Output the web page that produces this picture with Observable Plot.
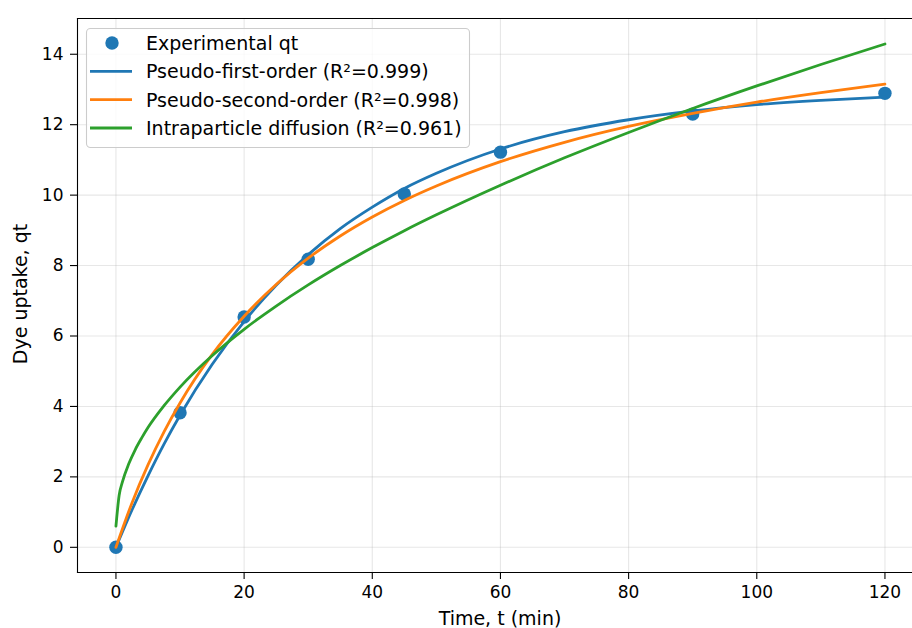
<!DOCTYPE html>
<html><head><meta charset="utf-8">
<script src="https://cdn.jsdelivr.net/npm/d3@7"></script>
<script src="https://cdn.jsdelivr.net/npm/@observablehq/plot@0.6"></script>
<style>
body{margin:0;background:#fff;overflow:hidden}
#chart{position:relative;width:912px;height:628px}
</style>
</head><body><div id="chart"></div>
<script>
// Experimental data
const expTime = [0, 10, 20, 30, 45, 60, 90, 120];
const expQt = [0, 3.82, 6.54, 8.18, 10.03, 11.22, 12.30, 12.89];

// Fitted curves
const fitTime = [0, 2.5, 5, 7.5, 10, 15, 20, 25, 30, 35, 40, 45, 50, 60, 70, 80, 90, 100, 110, 120];
const pfoQt = [0, 1.06, 2.03, 2.93, 3.75, 5.19, 6.41, 7.44, 8.31, 9.05, 9.66, 10.19, 10.62, 11.31, 11.80, 12.14, 12.39, 12.57, 12.69, 12.78];
const psoQt = [0, 1.26, 2.34, 3.28, 4.10, 5.47, 6.56, 7.46, 8.21, 8.84, 9.38, 9.85, 10.26, 10.95, 11.50, 11.95, 12.32, 12.64, 12.91, 13.15];
const ipdTime = [0, 0.5, 1, 2, 3, 4, 5, 7.5, 10, 15, 20, 25, 30, 35, 40, 45, 50, 60, 70, 80, 90, 100, 110, 120];
const ipdQt = [0.60, 1.48, 1.85, 2.37, 2.77, 3.10, 3.40, 4.02, 4.55, 5.44, 6.19, 6.85, 7.45, 8.00, 8.51, 8.99, 9.44, 10.28, 11.06, 11.78, 12.46, 13.10, 13.71, 14.29];

const xTicks = [0, 20, 40, 60, 80, 100, 120];
const yTicks = [0, 2, 4, 6, 8, 10, 12, 14];
const legendLabels = ["Experimental qt", "Pseudo-first-order (R²=0.999)", "Pseudo-second-order (R²=0.998)", "Intraparticle diffusion (R²=0.961)"];
const colors = ["#1f77b4", "#ff7f0e", "#2ca02c"];
const xLabel = "Time, t (min)";
const yLabel = "Dye uptake, qt";

const expData = expTime.map((t, i) => ({t, q: expQt[i]}));
const pfoData = fitTime.map((t, i) => ({t, q: pfoQt[i]}));
const psoData = fitTime.map((t, i) => ({t, q: psoQt[i]}));
const ipdData = ipdTime.map((t, i) => ({t, q: ipdQt[i]}));

const font = "DejaVu Sans, sans-serif";
const plot = Plot.plot({
  width: 912,
  height: 628,
  marginLeft: 77,
  marginTop: 18,
  marginBottom: 56,
  marginRight: 0,
  style: {fontFamily: font, background: "#fff", color: "#000", overflow: "visible"},
  x: {domain: [-6, 124.3], label: null},
  y: {domain: [-0.715, 15.015], label: null},
  marks: [
    Plot.gridX(xTicks, {stroke: "#b0b0b0", strokeOpacity: 0.3, strokeWidth: 1.1}),
    Plot.gridY(yTicks, {stroke: "#b0b0b0", strokeOpacity: 0.3, strokeWidth: 1.1}),
    Plot.dot(expData, {x: "t", y: "q", r: 6.7, fill: colors[0], stroke: "none"}),
    Plot.line(pfoData, {x: "t", y: "q", stroke: colors[0], strokeWidth: 2.8, curve: "monotone-x"}),
    Plot.line(psoData, {x: "t", y: "q", stroke: colors[1], strokeWidth: 2.8, curve: "monotone-x"}),
    Plot.line(ipdData, {x: "t", y: "q", stroke: colors[2], strokeWidth: 2.8, curve: "monotone-x"}),
    Plot.axisX(xTicks, {tickSize: 7, tickPadding: 6, fontSize: 17, strokeWidth: 1.1, label: null}),
    Plot.axisY(yTicks, {tickSize: 7, tickPadding: 7, fontSize: 17, strokeWidth: 1.1, label: null}),
    Plot.frame({anchor: "left", stroke: "#000", strokeWidth: 1.1}),
    Plot.frame({anchor: "bottom", stroke: "#000", strokeWidth: 1.1}),
    Plot.frame({anchor: "top", stroke: "#000", strokeWidth: 1.1})
  ]
});
document.getElementById("chart").appendChild(plot);

const svg = d3.select(plot);
// Axis labels
svg.append("text").attr("x", 500).attr("y", 625).attr("text-anchor", "middle")
  .attr("font-size", 19).attr("font-family", font).attr("fill", "#000").text(xLabel);
svg.append("text").attr("transform", "translate(26.5,294) rotate(-90)").attr("text-anchor", "middle")
  .attr("font-size", 19).attr("font-family", font).attr("fill", "#000").text(yLabel);

// Legend
const lg = svg.append("g").attr("text-anchor", "start");
lg.append("rect").attr("x", 86.5).attr("y", 28.5).attr("width", 383).attr("height", 119).attr("rx", 4)
  .attr("fill", "#fff").attr("fill-opacity", 0.8).attr("stroke", "#cccccc").attr("stroke-width", 1.1);
const rowY = [43, 71.3, 99.7, 128];
lg.append("circle").attr("cx", 112).attr("cy", rowY[0]).attr("r", 6.7).attr("fill", colors[0]);
for (let i = 1; i < 4; i++) {
  lg.append("line").attr("x1", 90).attr("x2", 132).attr("y1", rowY[i]).attr("y2", rowY[i])
    .attr("stroke", colors[i - 1]).attr("stroke-width", 2.8);
}
legendLabels.forEach((s, i) => {
  lg.append("text").attr("x", 146).attr("y", rowY[i]).attr("dy", "0.36em").attr("text-anchor", "start")
    .attr("font-size", 19).attr("font-family", font).attr("fill", "#000").text(s);
});
</script>
</body></html>
